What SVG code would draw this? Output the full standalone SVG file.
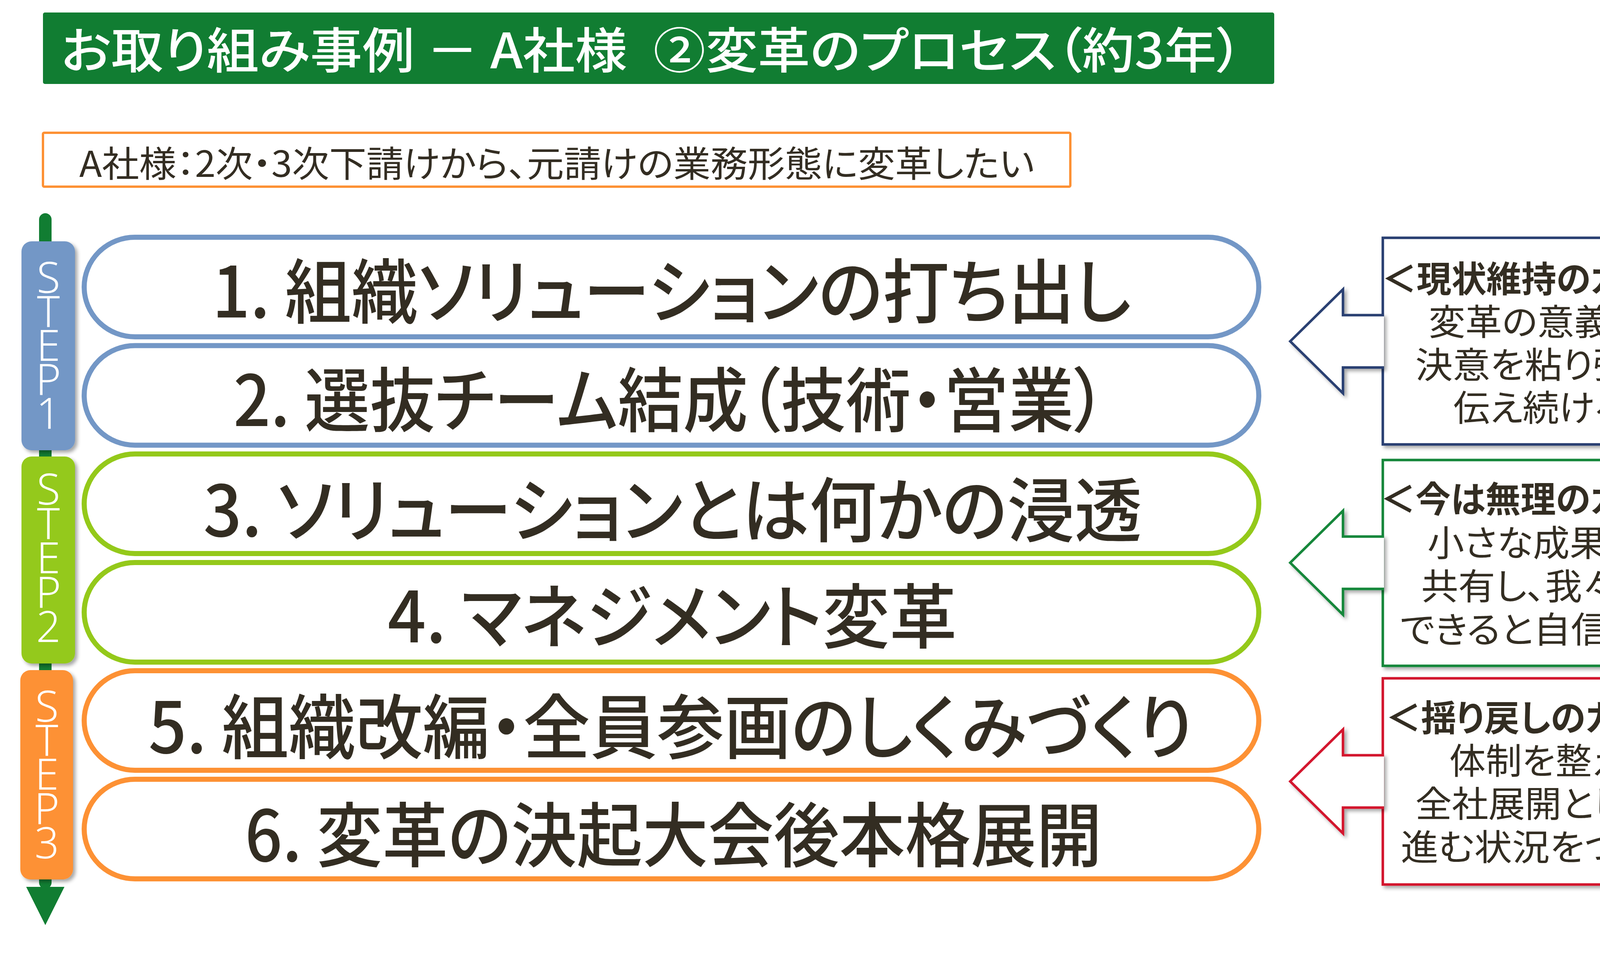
<svg xmlns="http://www.w3.org/2000/svg" width="4434" height="2466" viewBox="0 0 4434 2466">
<defs>
<style>
.jp{font-family:"Noto Sans CJK JP","Noto Sans",sans-serif;}
.palt{font-feature-settings:"palt" 1;}
.dark{fill:#332D22;}
.pill{fill:#FFFFFF;stroke-width:13;}
.pilltxt{font-size:180px;font-weight:500;text-anchor:middle;}
.step{font-family:"Noto Sans","DejaVu Sans",sans-serif;font-size:110px;font-weight:300;fill:#FFFFFF;text-anchor:middle;}
.cbox{fill:#FFFFFF;stroke-width:6.5;}
.ctxt{font-size:92px;text-anchor:middle;}
.ctitle{font-weight:700;}
.blue{stroke:#7397C6;}
.lgreen{stroke:#94C91A;}
.orange{stroke:#FD9134;}
</style>
<filter id="shadow" x="-10%" y="-10%" width="130%" height="130%">
<feDropShadow dx="6" dy="6" stdDeviation="5" flood-color="#000000" flood-opacity="0.35"/>
</filter>
</defs>
<rect width="4434" height="2466" fill="#FFFFFF"/>

<g id="title">
<rect x="110" y="32" width="3152" height="183" rx="5" fill="#117D32"/>
<text class="jp palt" x="156" y="175" font-size="125" font-weight="500" fill="#FFFFFF" textLength="3025" lengthAdjust="spacingAndGlyphs">お取り組み事例 － A社様&#x2002;②変革のプロセス（約3年）</text>
</g>

<g id="subtitle">
<rect x="110" y="340" width="2630" height="138" rx="3" fill="#FFFFFF" stroke="#FD9134" stroke-width="6"/>
<text class="jp palt dark" x="203" y="453" font-size="92" textLength="2445" lengthAdjust="spacingAndGlyphs">A社様：2次・3次下請けから、元請けの業務形態に変革したい</text>
</g>

<g id="connectors">
<rect x="100" y="546" width="32" height="1730" rx="16" fill="#117D32"/>
<polygon points="67,2271 165,2271 116,2369" fill="#117D32"/>
</g>

<g id="step1" filter="url(#shadow)">
<rect x="55" y="618" width="137" height="535" rx="26" fill="#7397C6"/>
<text class="step"><tspan x="124" y="750">S</tspan><tspan x="124" y="837">T</tspan><tspan x="124" y="924">E</tspan><tspan x="124" y="1011">P</tspan><tspan x="124" y="1098">1</tspan></text>
</g>
<g id="step2" filter="url(#shadow)">
<rect x="55" y="1169" width="137" height="530" rx="26" fill="#94C91A"/>
<text class="step"><tspan x="124" y="1292">S</tspan><tspan x="124" y="1380">T</tspan><tspan x="124" y="1468">E</tspan><tspan x="124" y="1556">P</tspan><tspan x="124" y="1644">2</tspan></text>
</g>
<g id="step3" filter="url(#shadow)">
<rect x="52" y="1716" width="135" height="536" rx="26" fill="#FD9134"/>
<text class="step"><tspan x="120" y="1848">S</tspan><tspan x="120" y="1935">T</tspan><tspan x="120" y="2022">E</tspan><tspan x="120" y="2110">P</tspan><tspan x="120" y="2198">3</tspan></text>
</g>

<g id="item1">
<rect class="pill blue" x="215.5" y="607.5" width="3007" height="255" rx="130" ry="127.5"/>
<text class="jp palt dark pilltxt" x="1719" y="813" textLength="2352" lengthAdjust="spacingAndGlyphs">1. 組織ソリューションの打ち出し</text>
</g>
<g id="item2">
<rect class="pill blue" x="215.5" y="885" width="3007" height="255" rx="130" ry="127.5"/>
<text class="jp palt dark pilltxt" x="1715" y="1091" textLength="2235" lengthAdjust="spacingAndGlyphs">2. 選抜チーム結成（技術・営業）</text>
</g>
<g id="item3">
<rect class="pill lgreen" x="215.5" y="1162.5" width="3007" height="255" rx="130" ry="127.5"/>
<text class="jp palt dark pilltxt" x="1722" y="1373" textLength="2403" lengthAdjust="spacingAndGlyphs">3. ソリューションとは何かの浸透</text>
</g>
<g id="item4">
<rect class="pill lgreen" x="215.5" y="1440.5" width="3007" height="255" rx="130" ry="127.5"/>
<text class="jp palt dark pilltxt" x="1721" y="1645" textLength="1457" lengthAdjust="spacingAndGlyphs">4. マネジメント変革</text>
</g>
<g id="item5">
<rect class="pill orange" x="215.5" y="1717.5" width="3007" height="255" rx="130" ry="127.5"/>
<text class="jp palt dark pilltxt" x="1717" y="1928" textLength="2674" lengthAdjust="spacingAndGlyphs">5. 組織改編・全員参画のしくみづくり</text>
</g>
<g id="item6">
<rect class="pill orange" x="215.5" y="1995.5" width="3007" height="255" rx="130" ry="127.5"/>
<text class="jp palt dark pilltxt" x="1724" y="2205" textLength="2194" lengthAdjust="spacingAndGlyphs">6. 変革の決起大会後本格展開</text>
</g>

<g id="wall1">
<rect class="cbox" x="3540" y="609" width="808" height="529" stroke="#2A4172" filter="url(#shadow)"/>
<g filter="url(#shadow)">
<polygon points="3543,807 3438,807 3438,741 3303,874 3438,1007 3438,941 3543,941" fill="#FFFFFF"/>
<polyline points="3543,807 3438,807 3438,741 3303,874 3438,1007 3438,941 3543,941" fill="none" stroke="#2A4172" stroke-width="6.5"/>
</g>
<text class="jp palt dark ctxt">
<tspan class="ctitle" x="3945" y="748" textLength="795" lengthAdjust="spacingAndGlyphs">＜現状維持のカベ＞</tspan>
<tspan x="3945" y="858" textLength="555" lengthAdjust="spacingAndGlyphs">変革の意義や</tspan>
<tspan x="3942" y="968" textLength="617" lengthAdjust="spacingAndGlyphs">決意を粘り強く</tspan>
<tspan x="3943" y="1078" textLength="445" lengthAdjust="spacingAndGlyphs">伝え続ける</tspan>
</text>
</g>

<g id="wall2">
<rect class="cbox" x="3540" y="1178" width="808" height="527" stroke="#16873A" filter="url(#shadow)"/>
<g filter="url(#shadow)">
<polygon points="3543,1374 3438,1374 3438,1308 3303,1441 3438,1574 3438,1508 3543,1508" fill="#FFFFFF"/>
<polyline points="3543,1374 3438,1374 3438,1308 3303,1441 3438,1574 3438,1508 3543,1508" fill="none" stroke="#16873A" stroke-width="6.5"/>
</g>
<text class="jp palt dark ctxt">
<tspan class="ctitle" x="3944" y="1312" textLength="800" lengthAdjust="spacingAndGlyphs">＜今は無理のカベ＞</tspan>
<tspan x="3937" y="1424" textLength="545" lengthAdjust="spacingAndGlyphs">小さな成果を</tspan>
<tspan x="3945" y="1535" textLength="593" lengthAdjust="spacingAndGlyphs">共有し、我々に</tspan>
<tspan x="3944" y="1646" textLength="720" lengthAdjust="spacingAndGlyphs">できると自信づけ</tspan>
</text>
</g>

<g id="wall3">
<rect class="cbox" x="3540" y="1737" width="808" height="528" stroke="#D3182E" filter="url(#shadow)"/>
<g filter="url(#shadow)">
<polygon points="3543,1934 3438,1934 3438,1868 3303,2001 3438,2134 3438,2068 3543,2068" fill="#FFFFFF"/>
<polyline points="3543,1934 3438,1934 3438,1868 3303,2001 3438,2134 3438,2068 3543,2068" fill="none" stroke="#D3182E" stroke-width="6.5"/>
</g>
<text class="jp palt dark ctxt">
<tspan class="ctitle" x="3945" y="1872" textLength="775" lengthAdjust="spacingAndGlyphs">＜揺り戻しのカベ＞</tspan>
<tspan x="3945" y="1982" textLength="449" lengthAdjust="spacingAndGlyphs">体制を整え</tspan>
<tspan x="3943" y="2092" textLength="619" lengthAdjust="spacingAndGlyphs">全社展開として</tspan>
<tspan x="3942" y="2203" textLength="712" lengthAdjust="spacingAndGlyphs">進む状況をつくる</tspan>
</text>
</g>
</svg>
